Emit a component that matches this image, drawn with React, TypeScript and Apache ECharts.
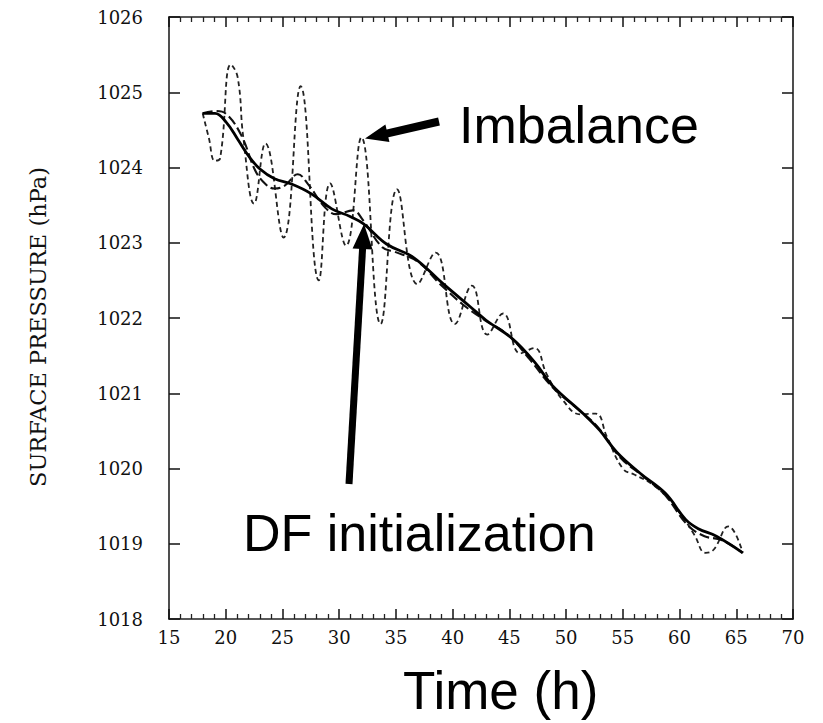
import React, { useEffect, useRef } from "react";
import * as echarts from "echarts";

// Time (h) and surface pressure (hPa)
const imbalancedRun: [number, number][] = [
  [17.97, 1024.72], [18.5, 1024.4], [19.05, 1024.09], [19.5, 1024.12], [20.45, 1025.37],
  [21.05, 1025.2], [21.55, 1024.4], [22.5, 1023.52], [23.5, 1024.32], [25.1, 1023.07],
  [26.6, 1025.08], [28.2, 1022.5], [29.2, 1023.79], [30.6, 1022.96], [31.95, 1024.4],
  [33.65, 1021.92], [35.1, 1023.71], [36.9, 1022.45], [38.5, 1022.87], [40.2, 1021.92],
  [41.7, 1022.43], [43.05, 1021.78], [44.45, 1022.06], [45.95, 1021.53], [47.2, 1021.6],
  [48.3, 1021.25], [49.7, 1020.91], [51.3, 1020.72], [52.6, 1020.73], [53.6, 1020.42],
  [55.0, 1020.0], [56.0, 1019.92], [57.5, 1019.8], [59.0, 1019.6], [60.3, 1019.35],
  [61.3, 1019.12], [62.3, 1018.88], [63.0, 1018.92], [64.3, 1019.23], [65.57, 1018.88],
];

const dashedRun: [number, number][] = [
  [17.97, 1024.72], [19.06, 1024.75], [20.05, 1024.71], [21.4, 1024.42], [22.6, 1023.96],
  [23.5, 1023.78], [24.3, 1023.72], [25.2, 1023.76], [26.35, 1023.91], [27.25, 1023.78],
  [28.75, 1023.47], [29.75, 1023.38], [31.2, 1023.43], [32.1, 1023.3], [33.8, 1022.94],
  [34.9, 1022.88], [36.9, 1022.75], [38.9, 1022.45], [40.9, 1022.18], [42.85, 1021.97],
  [44.85, 1021.78], [46.8, 1021.45], [48.8, 1021.08], [50.8, 1020.82], [52.8, 1020.55],
  [54.75, 1020.15], [56.75, 1019.9], [58.7, 1019.65], [60.7, 1019.25], [62.2, 1019.1],
  [63.7, 1019.05], [65.57, 1018.88],
];

const dfInitRun: [number, number][] = [
  [17.97, 1024.72], [19.06, 1024.72], [20.05, 1024.6], [21.04, 1024.38], [22.03, 1024.15],
  [23.02, 1023.98], [24.3, 1023.85], [25.8, 1023.78], [27.55, 1023.65], [29.35, 1023.45],
  [30.96, 1023.35], [32.15, 1023.25], [34.2, 1022.98], [36.5, 1022.81], [39.2, 1022.45],
  [41.55, 1022.15], [42.95, 1021.97], [45.3, 1021.72], [47.3, 1021.4], [48.8, 1021.1],
  [51.5, 1020.73], [52.95, 1020.51], [54.45, 1020.22], [56.5, 1019.94], [58.75, 1019.67],
  [60.55, 1019.32], [61.65, 1019.2], [63.25, 1019.1], [65.57, 1018.88],
];

const xMin = 15;
const xMax = 70;
const xStep = 5;
const yMin = 1018;
const yMax = 1026;
const yStep = 1;

const yAxisTitle = "SURFACE PRESSURE (hPa)";
const xAxisTitle = "Time (h)";
const imbalanceLabel = "Imbalance";
const dfLabel = "DF initialization";

const serif = "DejaVu Serif";
const sans = "Liberation Sans, Arial, sans-serif";
const ink = "#111";

function arrowGraphics(tail: [number, number], tip: [number, number], headLen: number, headHalf: number, shaft: number) {
  const dx = tip[0] - tail[0];
  const dy = tip[1] - tail[1];
  const len = Math.sqrt(dx * dx + dy * dy);
  const ux = dx / len;
  const uy = dy / len;
  const bx = tip[0] - ux * headLen;
  const by = tip[1] - uy * headLen;
  const px = -uy * headHalf;
  const py = ux * headHalf;
  return [
    {
      type: "line",
      shape: { x1: tail[0], y1: tail[1], x2: bx + ux * 2, y2: by + uy * 2 },
      style: { stroke: "#000", lineWidth: shaft },
      z: 100,
    },
    {
      type: "polygon",
      shape: { points: [tip, [bx + px, by + py], [bx - px, by - py]] },
      style: { fill: "#000" },
      z: 100,
    },
  ];
}

export default function App() {
  const ref = useRef<HTMLDivElement>(null);
  useEffect(() => {
    if (!ref.current) return;
    const chart = echarts.init(ref.current, null, { renderer: "svg" });
    const axisLine = { show: true, lineStyle: { color: "#222", width: 1.6 } };
    const baseX = {
      type: "value" as const,
      min: xMin,
      max: xMax,
      interval: xStep,
      axisLine,
      axisTick: { show: true, inside: true, length: 10, lineStyle: { color: "#111", width: 1.5 } },
      minorTick: { show: true, splitNumber: 5, length: 5, lineStyle: { color: "#222", width: 1.3 } },
      splitLine: { show: false },
      minorSplitLine: { show: false },
    };
    const baseY = {
      type: "value" as const,
      min: yMin,
      max: yMax,
      interval: yStep,
      axisLine,
      axisTick: { show: true, inside: true, length: 11, lineStyle: { color: "#111", width: 1.5 } },
      splitLine: { show: false },
    };
    const plain = (v: number) => String(v);
    chart.setOption({
      animation: false,
      backgroundColor: "#fff",
      grid: { left: 169, right: 30, top: 17, bottom: 104, containLabel: false },
      xAxis: [
        {
          ...baseX,
          position: "bottom",
          axisLabel: { show: true, color: ink, fontFamily: serif, fontSize: 18, margin: 9, formatter: plain },
        },
        { ...baseX, position: "top", axisLabel: { show: false } },
      ],
      yAxis: [
        {
          ...baseY,
          position: "left",
          axisLabel: { show: true, color: ink, fontFamily: serif, fontSize: 18, margin: 26, formatter: plain },
        },
        { ...baseY, position: "right", axisLabel: { show: false } },
      ],
      series: [
        {
          type: "line",
          data: imbalancedRun,
          smooth: 0.45,
          showSymbol: false,
          lineStyle: { color: "#222", width: 1.8, type: [5, 3.5] },
          z: 3,
        },
        {
          type: "line",
          data: dashedRun,
          smooth: 0.4,
          showSymbol: false,
          lineStyle: { color: "#111", width: 2.1, type: [10, 4] },
          z: 4,
        },
        {
          type: "line",
          data: dfInitRun,
          smooth: 0.4,
          showSymbol: false,
          lineStyle: { color: "#000", width: 2.8 },
          z: 5,
        },
      ],
      graphic: [
        {
          type: "text",
          x: 38,
          y: 327,
          rotation: Math.PI / 2,
          style: {
            text: yAxisTitle,
            fill: ink,
            font: `22.5px ${serif}`,
            align: "center",
            verticalAlign: "middle",
          },
        },
        {
          type: "text",
          x: 459,
          y: 125,
          style: { text: imbalanceLabel, fill: "#000", font: `52px ${sans}`, align: "left", verticalAlign: "middle" },
        },
        {
          type: "text",
          x: 243,
          y: 533,
          style: { text: dfLabel, fill: "#000", font: `52px ${sans}`, align: "left", verticalAlign: "middle" },
        },
        {
          type: "text",
          x: 403,
          y: 690,
          style: { text: xAxisTitle, fill: "#000", font: `53px ${sans}`, align: "left", verticalAlign: "middle" },
        },
        ...arrowGraphics([439, 121.5], [365, 138.5], 23, 9, 8),
        ...arrowGraphics([349, 484], [364, 224], 25, 10, 7),
      ],
    });
    return () => chart.dispose();
  }, []);
  return <div ref={ref} style={{ position: "fixed", left: 0, top: 0, width: 823, height: 723 }} />;
}
